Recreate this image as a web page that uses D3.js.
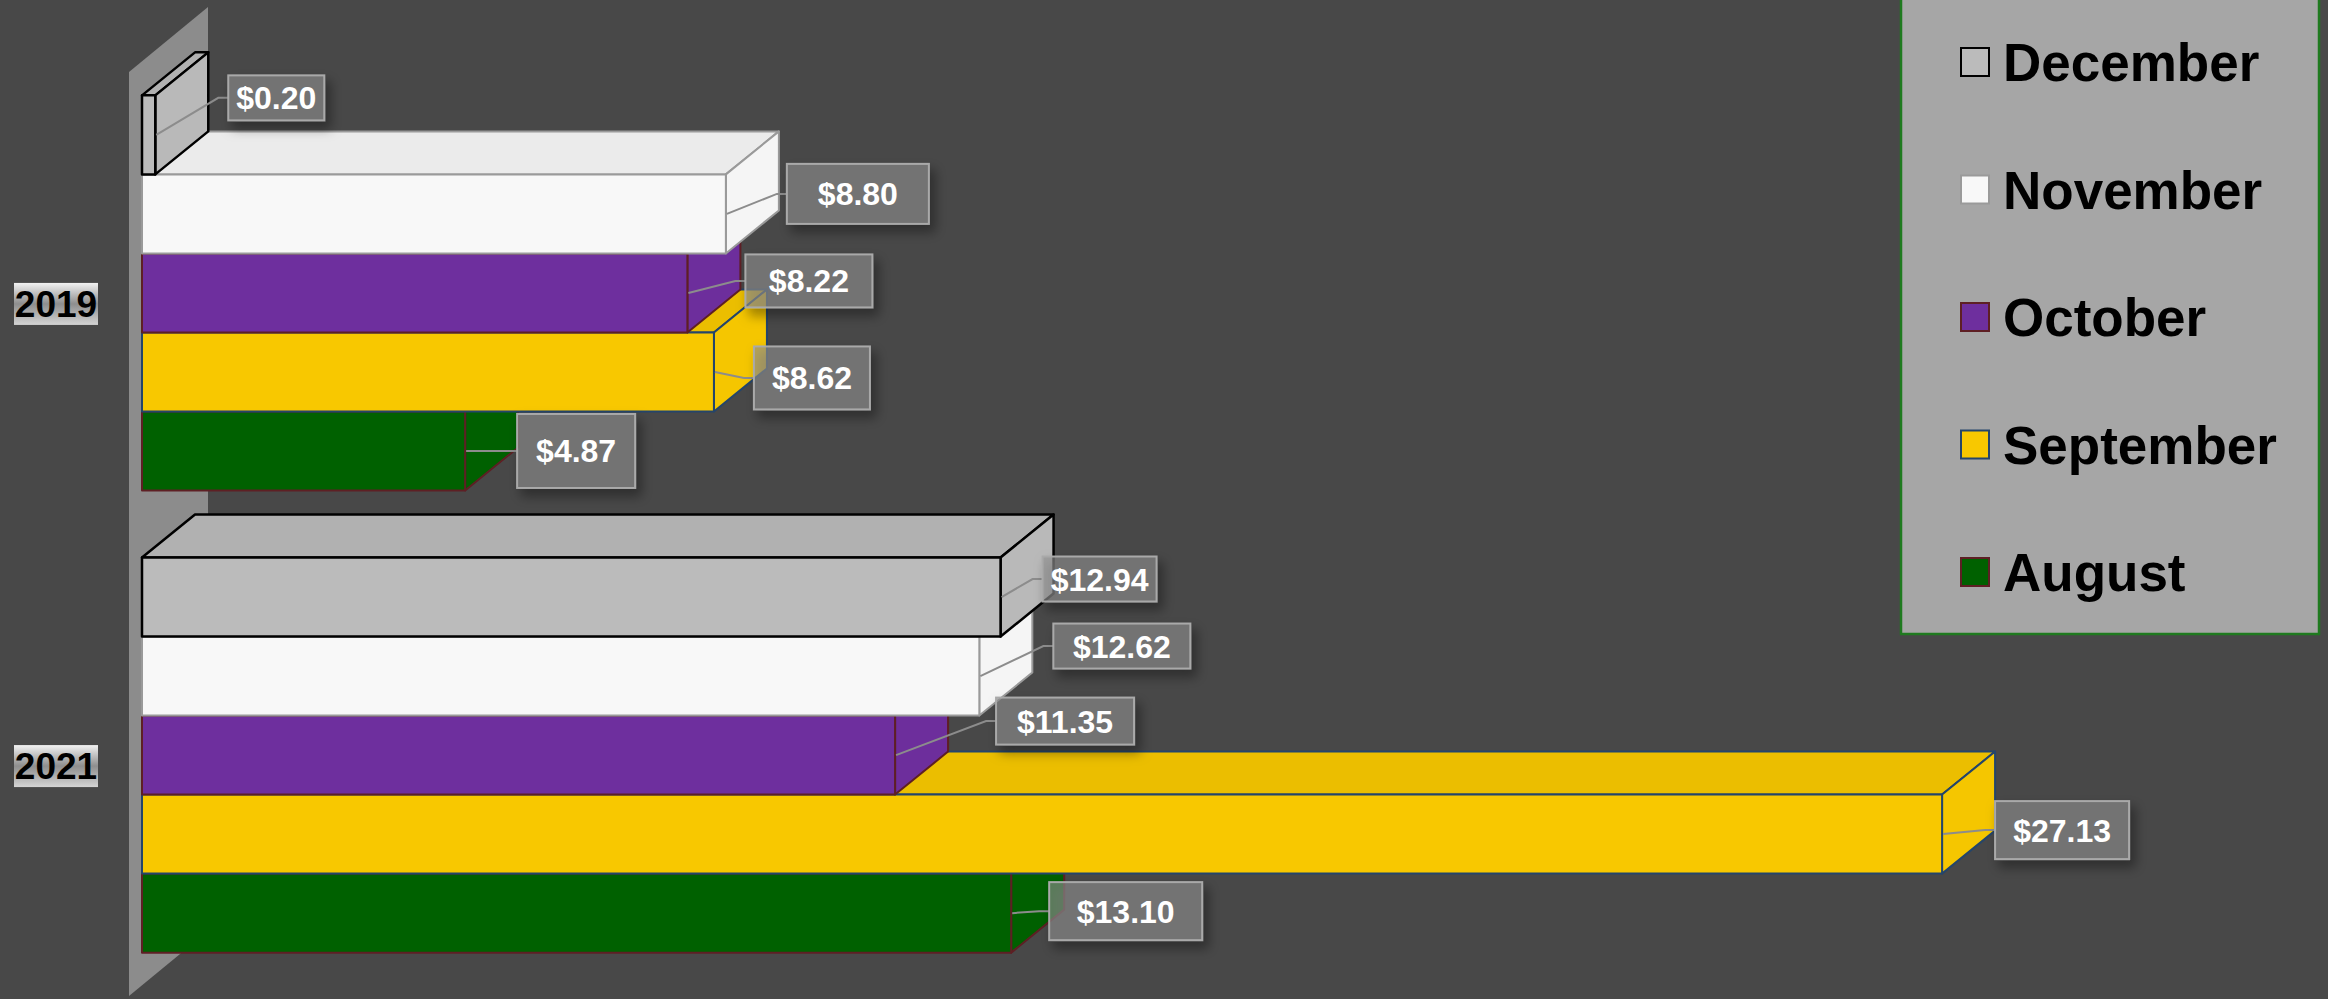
<!DOCTYPE html>
<html>
<head>
<meta charset="utf-8">
<script src="https://cdn.jsdelivr.net/npm/d3@7"></script>
<style>
  html, body { margin: 0; padding: 0; background: #484848; overflow: hidden; }
  svg { display: block; }
</style>
</head>
<body>
<svg id="chart" width="2328" height="999"></svg>
<script>
// ---- data ----
const years = ["2019", "2021"];
const months = ["December", "November", "October", "September", "August"];
const values2019 = [0.20, 8.80, 8.22, 8.62, 4.87];
const values2021 = [12.94, 12.62, 11.35, 27.13, 13.10];
const valueLabels2019 = ["$0.20", "$8.80", "$8.22", "$8.62", "$4.87"];
const valueLabels2021 = ["$12.94", "$12.62", "$11.35", "$27.13", "$13.10"];

// ---- styles / layout (not data) ----
const fills = ["#bbbbbb", "#f8f8f8", "#6e2f9e", "#f8c800", "#006100"];
const strokes = ["#000000", "#9a9a9a", "#5e1f24", "#24456b", "#5e1f24"];
const strokeW = [2.5, 2, 2, 2, 2];
// label box layout relative to bar end: [gap from bar end, vertical shift of box centre, box width, box height]
const labelLayout2019 = [[73, -37, 96, 45], [61, -20, 142, 60], [58, -12, 127, 53], [40, 6, 116, 63], [52, 0, 118, 74]];
const labelLayout2021 = [[42, -18, 114, 45], [74, -30, 137, 45], [101, -34, 138, 47], [53, -4, 134, 58], [38, -2, 153, 58]];

const valuesByYear = { "2019": values2019, "2021": values2021 };
const labelsByYear = { "2019": valueLabels2019, "2021": valueLabels2021 };
const layoutByYear = { "2019": labelLayout2019, "2021": labelLayout2021 };

const svg = d3.select("#chart");
const FONT = "'Liberation Sans', Arial, sans-serif";
const DX = 53, DY = -43;   // 3D depth offset

const x = d3.scaleLinear().domain([0, 30]).range([142, 142 + 30 * 66.35]);
const y = d3.scaleBand().domain(years).range([63, 985]).paddingInner(0.145).paddingOuter(0.07);
const yInner = d3.scaleBand().domain(months).range([0, y.bandwidth()]).padding(0);
const colorOf = d3.scaleOrdinal().domain(months).range(fills);
const strokeOf = d3.scaleOrdinal().domain(months).range(strokes);
const swOf = d3.scaleOrdinal().domain(months).range(strokeW);

// defs
const defs = svg.append("defs");
const sh = defs.append("filter").attr("id", "shadow").attr("x", "-30%").attr("y", "-30%").attr("width", "170%").attr("height", "180%");
sh.append("feDropShadow").attr("dx", 5).attr("dy", 7).attr("stdDeviation", 6).attr("flood-color", "#000").attr("flood-opacity", 0.55);
const cg = defs.append("linearGradient").attr("id", "catgrad").attr("x1", 0).attr("y1", 0).attr("x2", 0).attr("y2", 1);
cg.append("stop").attr("offset", "0%").attr("stop-color", "#f2f2f2");
cg.append("stop").attr("offset", "50%").attr("stop-color", "#8e8e8e");
cg.append("stop").attr("offset", "100%").attr("stop-color", "#d4d4d4");

// background
svg.append("rect").attr("width", 2328).attr("height", 999).attr("fill", "#484848");

// back/side wall
const wx = x(0) - 13, wTop = 72, wBot = 996, wdx = 79, wdy = -65;
svg.append("path")
  .attr("d", `M${wx},${wTop} L${wx + wdx},${wTop + wdy} L${wx + wdx},${wBot + wdy} L${wx},${wBot} Z`)
  .attr("fill", "#8c8c8c");

// bars
const barsG = svg.append("g");
const drawOrder = months.slice().reverse(); // bottom bar first
years.forEach(yr => {
  drawOrder.forEach(m => {
    const i = months.indexOf(m);
    const v = valuesByYear[yr][i];
    const x0 = x(0), x1 = x(v);
    const y0 = y(yr) + yInner(m), y1 = y0 + yInner.bandwidth();
    const c = colorOf(m);
    const g = barsG.append("g")
      .attr("stroke", strokeOf(m)).attr("stroke-width", swOf(m)).attr("stroke-linejoin", "round");
    // top face
    g.append("path")
      .attr("d", `M${x0},${y0} L${x0 + DX},${y0 + DY} L${x1 + DX},${y0 + DY} L${x1},${y0} Z`)
      .attr("fill", d3.rgb(c).darker(0.15));
    // side face
    g.append("path")
      .attr("d", `M${x1},${y0} L${x1 + DX},${y0 + DY} L${x1 + DX},${y1 + DY} L${x1},${y1} Z`)
      .attr("fill", d3.rgb(c).darker(0.03));
    // front face
    g.append("rect")
      .attr("x", x0).attr("y", y0).attr("width", x1 - x0).attr("height", y1 - y0)
      .attr("fill", c);
  });
});

// data labels
const labG = svg.append("g");
years.forEach(yr => {
  months.forEach((m, i) => {
    const v = valuesByYear[yr][i];
    const [gap, shift, w, h] = layoutByYear[yr][i];
    const ex = x(v), cy = y(yr) + yInner(m) + yInner.bandwidth() / 2;
    const bx = ex + gap, bcy = cy + shift;
    labG.append("path")
      .attr("d", `M${ex + 1},${cy} L${bx - 10},${bcy} L${bx},${bcy}`)
      .attr("fill", "none").attr("stroke", "#8c8c8c").attr("stroke-width", 2);
    labG.append("rect")
      .attr("x", bx).attr("y", bcy - h / 2).attr("width", w).attr("height", h)
      .attr("fill", "rgba(140,140,140,0.62)")
      .attr("stroke", "#a9a9a9").attr("stroke-width", 2)
      .attr("filter", "url(#shadow)");
    labG.append("text")
      .attr("x", bx + w / 2).attr("y", bcy).attr("dy", "0.36em")
      .attr("text-anchor", "middle")
      .attr("font-family", FONT).attr("font-weight", "bold").attr("font-size", 32)
      .attr("fill", "#ffffff")
      .text(labelsByYear[yr][i]);
  });
});

// category labels
const catG = svg.append("g");
years.forEach(yr => {
  const cy = y(yr) + y.bandwidth() / 2 + 11;
  catG.append("rect").attr("x", 14).attr("y", cy - 21).attr("width", 84).attr("height", 42)
    .attr("fill", "url(#catgrad)");
  catG.append("text").attr("x", 56).attr("y", cy).attr("dy", "0.36em")
    .attr("text-anchor", "middle")
    .attr("font-family", FONT).attr("font-weight", "bold").attr("font-size", 37)
    .attr("fill", "#000").text(yr);
});

// legend
const legG = svg.append("g");
legG.append("rect").attr("x", 1901).attr("y", -10).attr("width", 418).attr("height", 644)
  .attr("fill", "#a6a6a6").attr("stroke", "#1f7a1f").attr("stroke-width", 2.5);
const ly = d3.scalePoint().domain(months).range([62, 572]);
months.forEach(m => {
  legG.append("rect").attr("x", 1961).attr("y", ly(m) - 14).attr("width", 28).attr("height", 28)
    .attr("fill", colorOf(m)).attr("stroke", strokeOf(m)).attr("stroke-width", 2);
  legG.append("text").attr("x", 2003).attr("y", ly(m)).attr("dy", "0.36em")
    .attr("font-family", FONT).attr("font-weight", "bold").attr("font-size", 53)
    .attr("fill", "#000").text(m);
});
</script>
</body>
</html>
